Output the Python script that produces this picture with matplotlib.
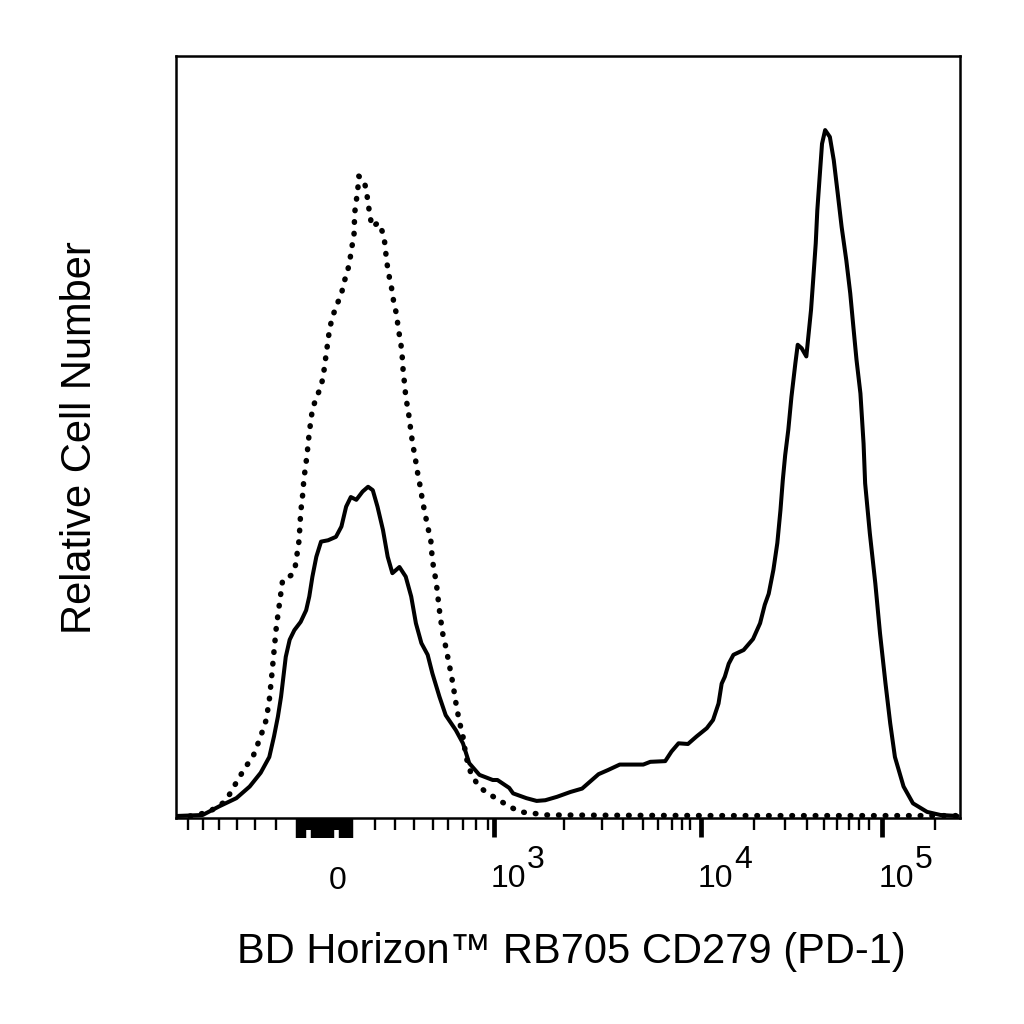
import matplotlib
matplotlib.use("Agg")
import matplotlib.pyplot as plt
import numpy as np

plt.rcParams['font.family'] = ['Liberation Sans', 'DejaVu Sans']

# ---- data: histogram vs display channel (0..1000 across the axis) ----
ctrl_channel = [18, 21, 42, 60, 68, 79, 89, 98, 108, 115, 119, 122, 125, 128, 132, 136,
                147, 152, 157, 159, 162, 163, 167, 170, 172, 174, 179, 185, 188, 192, 196,
                200, 205, 211, 214, 219, 222, 224, 227, 227.5, 228, 230, 232, 233, 240, 243,
                245, 247, 250, 258, 264, 267, 268, 270, 273, 276, 278, 282, 283, 286, 288,
                289, 290, 292, 293, 296, 298, 300, 302, 305, 307, 310, 315, 321, 325, 327,
                332, 336, 340, 344, 349, 353, 357, 361, 366, 370, 376, 385, 395, 408, 425,
                439, 455, 473, 550, 700, 850, 997]
ctrl_count = [0, 0, 0.6, 1.9, 3.1, 5.3, 7.2, 8.6, 11.6, 14.0, 16.9, 20.3, 24.0, 27.6, 31.0, 34.4,
              35.1, 36.3, 40.2, 44.2, 47.3, 49.0, 52.5, 55.9, 57.6, 59.3, 61.0, 62.6, 64.3, 67.7, 71.1,
              72.9, 74.5, 76.1, 77.7, 79.5, 81.2, 82.8, 84.5, 86.4, 88.0, 89.7, 91.5, 93.3, 92.6, 91.0,
              89.4, 87.8, 85.9, 86.5, 85.0, 83.1, 81.5, 79.9, 78.0, 76.4, 74.6, 72.9, 71.3, 69.5, 67.8,
              66.2, 64.4, 62.7, 61.0, 59.3, 57.5, 55.8, 54.1, 52.4, 50.7, 49.0, 45.6, 42.2, 40.2, 37.3,
              34.0, 30.0, 26.7, 24.7, 21.8, 19.4, 16.5, 14.0, 11.6, 8.6, 6.3, 4.5, 3.5, 2.6, 1.4,
              0.6, 0.4, 0.15, 0.1, 0.05, 0.05, 0.05]

pd1_channel = [0, 34, 55, 77, 94, 108, 119, 125, 130, 134, 137, 140, 145, 151, 159, 166, 170,
               174, 179, 185, 194, 204, 211, 217, 223, 230, 238, 245, 251, 257, 264, 270, 276,
               285, 293, 300, 306, 313, 321, 327, 336, 344, 357, 366, 374, 387, 404, 410, 425,
               430, 447, 460, 471, 486, 503, 518, 528, 539, 551, 566, 583, 596, 605, 624, 632,
               641, 653, 664, 677, 685, 692, 696, 700, 705, 711, 724, 736, 745, 751, 756, 762,
               767, 771, 774, 777, 781, 785, 790, 793, 798, 804, 807, 810, 813, 816, 818, 821,
               824, 828, 834, 839, 844, 849, 855, 860, 864, 868, 873, 877, 879, 885, 892, 898,
               905, 911, 917, 928, 940, 958, 975, 997]
pd1_count = [0, 0.15, 1.4, 2.6, 4.3, 6.3, 8.6, 11.6, 14.5, 17.4, 20.3, 23.2, 25.7, 27.1, 28.3, 30.0, 32.0,
             34.9, 37.8, 40.0, 40.2, 40.7, 42.2, 45.1, 46.5, 46.1, 47.3, 48.0, 47.5, 45.1, 41.7, 37.8, 35.4,
             36.3, 34.9, 32.0, 28.1, 25.2, 23.5, 20.8, 17.4, 14.7, 12.5, 10.6, 7.7, 6.0, 5.25, 5.25, 4.1,
             3.3, 2.6, 2.2, 2.3, 2.8, 3.5, 4.0, 5.0, 6.1, 6.7, 7.5, 7.5, 7.5, 7.9, 8.0, 9.4,
             10.6, 10.5, 11.6, 12.8, 14.0, 16.4, 19.3, 20.3, 22.2, 23.5, 24.2, 25.8, 28.1, 30.8, 32.4, 35.9,
             39.8, 44.6, 49.0, 52.6, 56.3, 61.1, 66.0, 68.7, 68.2, 67.0, 70.4, 73.8, 78.6, 83.5, 88.3, 93.2,
             98.0, 100.0, 99.0, 95.6, 90.8, 85.9, 81.0, 76.2, 71.3, 66.5, 61.6, 54.3, 48.5, 41.2, 33.9, 26.6,
             19.3, 13.5, 8.6, 4.3, 1.85, 0.6, 0.15, 0]

# axis ticks (channel positions)
decade_ticks = [405.6, 669.6, 900.5]
decade_exps = ["3", "4", "5"]
zero_tick = 206
cluster_long = [155, 159, 163, 175, 179, 183, 187, 191, 195, 199, 211, 215, 219, 223]
cluster_short = [167, 171, 203, 207]
minor_ticks = [15.3, 34.4, 54.8, 77.8, 100.8, 127.6, 253.8, 279.3, 303.6, 327.8, 346.9,
               366.1, 382.7, 398.0, 494.9, 543.4, 570.1, 595.6, 614.8, 632.6, 645.4, 655.6,
               737.2, 776.8, 804.8, 826.5, 843.1, 858.4, 871.1, 883.9, 968.1]

fig = plt.figure(figsize=(10.24, 10.24), dpi=100)
ax = fig.add_axes([176/1024, (1024-818)/1024, 784/1024, 762/1024])

ax.plot(ctrl_channel, ctrl_count, color='black', lw=4.0,
        linestyle=(0, (0.1, 2.0)), dash_capstyle='round', solid_joinstyle='round')
ax.plot(pd1_channel, pd1_count, color='black', lw=2.9, solid_joinstyle='round',
        solid_capstyle='round')

ax.set_xlim(0, 1000)
ax.set_ylim(-0.29, 110.8)

for s in ax.spines.values():
    s.set_linewidth(1.8)

ax.set_yticks([])
ax.set_xticks(decade_ticks)
ax.set_xticks(minor_ticks, minor=True)
ax.tick_params(axis='x', which='major', direction='out', length=13.5, width=3.4,
               labelbottom=False)
ax.tick_params(axis='x', which='minor', direction='out', length=8.6, width=1.7)

# dense tick cluster around zero (linear region of the axis)
sec = ax.secondary_xaxis('bottom')
sec.spines['bottom'].set_visible(False)
sec.set_xticks(cluster_long)
sec.set_xticks(cluster_short, minor=True)
sec.tick_params(axis='x', which='major', direction='out', length=14.4, width=3.2,
                labelbottom=False)
sec.tick_params(axis='x', which='minor', direction='out', length=8.6, width=3.2)

tick_fs = 23
ax.annotate("0", xy=(zero_tick, 0), xycoords=('data', 'axes fraction'),
            xytext=(0, -71), textcoords='offset pixels', ha='center', va='baseline',
            fontsize=tick_fs)
for t, e in zip(decade_ticks, decade_exps):
    ax.annotate("10", xy=(t, 0), xycoords=('data', 'axes fraction'),
                xytext=(-3, -69), textcoords='offset pixels', ha='left', va='baseline',
                fontsize=tick_fs)
    ax.annotate(e, xy=(t, 0), xycoords=('data', 'axes fraction'),
                xytext=(33, -50), textcoords='offset pixels', ha='left', va='baseline',
                fontsize=tick_fs)

fig.text(571/1024, (1024-963)/1024, "BD Horizon™ RB705 CD279 (PD-1)",
         ha='center', va='baseline', fontsize=30)
fig.text(80/1024, (1024-438)/1024, "Relative Cell Number", rotation=90,
         ha='center', va='center', fontsize=30)

fig.savefig("out.png", dpi=100, facecolor='white')
